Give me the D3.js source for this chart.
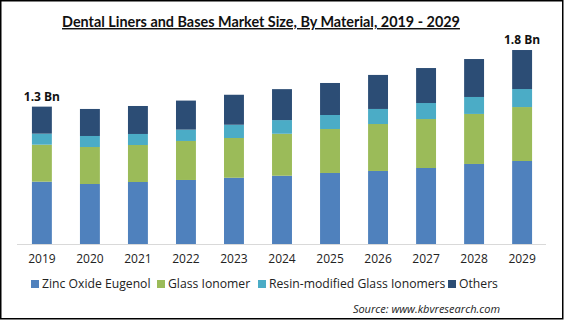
<!DOCTYPE html>
<html>
<head>
<meta charset="utf-8">
<script src="https://cdn.jsdelivr.net/npm/d3@7"></script>
<style>
  body { margin: 0; background: #fff; }
  svg { display: block; }
</style>
</head>
<body>
<svg id="chart"></svg>
<script>
const years = ["2019", "2020", "2021", "2022", "2023", "2024", "2025", "2026", "2027", "2028", "2029"];
const materials = ["Zinc Oxide Eugenol", "Glass Ionomer", "Resin-modified Glass Ionomers", "Others"];

// market size in USD billion
const zincOxideEugenol = [0.588, 0.566, 0.585, 0.604, 0.625, 0.644, 0.670, 0.689, 0.717, 0.755, 0.783];
const glassIonomer     = [0.349, 0.349, 0.349, 0.368, 0.375, 0.396, 0.415, 0.443, 0.462, 0.472, 0.509];
const resinModified    = [0.104, 0.104, 0.104, 0.107, 0.125, 0.129, 0.132, 0.142, 0.151, 0.160, 0.170];
const others           = [0.255, 0.255, 0.264, 0.274, 0.283, 0.292, 0.302, 0.321, 0.330, 0.358, 0.368];

const labelledYears = ["2019", "2029"];
const colors = ["#4f81bd", "#9bbb59", "#4bacc6", "#2c4d75"];

const W = 565, H = 322;
const svg = d3.select("#chart").attr("width", W).attr("height", H);

svg.append("rect")
  .attr("x", 0.75).attr("y", 0.75)
  .attr("width", 562).attr("height", 318)
  .attr("fill", "#fff")
  .attr("stroke", "#000")
  .attr("stroke-width", 1.5);

svg.append("text")
  .attr("x", 261)
  .attr("y", 27)
  .attr("text-anchor", "middle")
  .attr("font-family", "Lato, 'Open Sans', sans-serif")
  .attr("font-weight", "bold")
  .attr("font-size", 14.4)
  .attr("text-decoration", "underline")
  .attr("fill", "#111")
  .text("Dental Liners and Bases Market Size, By Material, 2019 - 2029");

const rows = years.map((y, i) => ({
  year: y,
  [materials[0]]: zincOxideEugenol[i],
  [materials[1]]: glassIonomer[i],
  [materials[2]]: resinModified[i],
  [materials[3]]: others[i]
}));

const stacked = d3.stack().keys(materials)(rows);

const x = d3.scaleBand().domain(years).range([18, 546]).paddingInner(0.585).paddingOuter(0.29);
const y = d3.scaleLinear().domain([0, 2]).range([244, 32]);

svg.append("line")
  .attr("x1", 17).attr("x2", 546)
  .attr("y1", y(0) + 0.5).attr("y2", y(0) + 0.5)
  .attr("stroke", "#d9d9d9");

svg.append("g")
  .selectAll("g")
  .data(stacked)
  .join("g")
  .attr("fill", (d, i) => colors[i])
  .selectAll("rect")
  .data(d => d)
  .join("rect")
  .attr("x", d => x(d.data.year))
  .attr("width", x.bandwidth())
  .attr("y", d => y(d[1]))
  .attr("height", d => y(d[0]) - y(d[1]));

const xAxis = svg.append("g")
  .attr("transform", `translate(0,${y(0)})`)
  .call(d3.axisBottom(x).tickSize(0).tickPadding(10));
xAxis.select(".domain").remove();
xAxis.selectAll("text")
  .attr("font-family", "'Open Sans', sans-serif")
  .attr("font-size", 12)
  .attr("fill", "#222");

// total labels over the first and last bars
const totals = rows.map((r, i) => ({ year: r.year, total: stacked[stacked.length - 1][i][1] }));
svg.selectAll(".total")
  .data(totals.filter(d => labelledYears.includes(d.year)))
  .join("text")
  .attr("class", "total")
  .attr("x", d => x(d.year) + x.bandwidth() / 2)
  .attr("y", d => y(d.total) - 6)
  .attr("text-anchor", "middle")
  .attr("font-family", "'Open Sans', sans-serif")
  .attr("font-weight", "bold")
  .attr("font-size", 12)
  .attr("fill", "#111")
  .text(d => d3.format(".1f")(d.total) + " Bn");

// legend
const legendX = [31, 157, 258, 448];
const legend = svg.append("g")
  .selectAll("g")
  .data(materials)
  .join("g")
  .attr("transform", (d, i) => `translate(${legendX[i]},284)`);
legend.append("rect")
  .attr("y", -4).attr("width", 8).attr("height", 8)
  .attr("fill", (d, i) => colors[i]);
legend.append("text")
  .attr("x", 11)
  .attr("y", 0)
  .attr("dy", "0.35em")
  .attr("font-family", "'Open Sans', sans-serif")
  .attr("font-size", 12.2)
  .attr("fill", "#222")
  .text(d => d);

svg.append("text")
  .attr("x", 500)
  .attr("y", 313)
  .attr("text-anchor", "end")
  .attr("font-family", "'Open Sans', sans-serif")
  .attr("font-style", "italic")
  .attr("font-size", 11)
  .attr("fill", "#222")
  .text("Source:  www.kbvresearch.com");
</script>
</body>
</html>
